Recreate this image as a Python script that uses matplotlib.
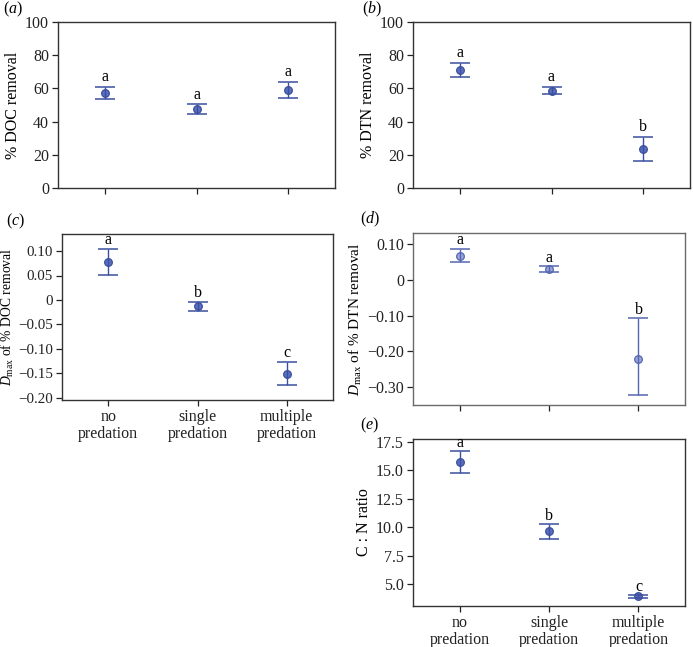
"""
Removal of DOC / DTN and C:N ratio under predation treatments (panels a-e).
"""
import matplotlib
matplotlib.use('Agg')
import matplotlib.pyplot as plt
from matplotlib.ticker import FixedLocator

plt.rcParams['font.family'] = 'Liberation Serif'
plt.rcParams['mathtext.fontset'] = 'custom'
plt.rcParams['mathtext.rm'] = 'Liberation Serif'
plt.rcParams['mathtext.it'] = 'Liberation Serif:italic'
plt.rcParams['axes.unicode_minus'] = True

# treatments
TREATMENTS = ['no\npredation', 'single\npredation', 'multiple\npredation']

# (a) % DOC removal
DOC_MEAN = [57.0, 47.5, 59.0]
DOC_LOW = [53.5, 44.5, 54.0]
DOC_HIGH = [61.0, 50.5, 64.0]
DOC_LETTERS = ['a', 'a', 'a']

# (b) % DTN removal
DTN_MEAN = [71.0, 58.5, 23.5]
DTN_LOW = [67.0, 56.5, 16.0]
DTN_HIGH = [75.5, 61.0, 31.0]
DTN_LETTERS = ['a', 'a', 'b']

# (c) Dmax of % DOC removal
DDOC_MEAN = [0.077, -0.013, -0.151]
DDOC_LOW = [0.052, -0.022, -0.174]
DDOC_HIGH = [0.104, -0.005, -0.127]
DDOC_LETTERS = ['a', 'b', 'c']

# (d) Dmax of % DTN removal
DDTN_MEAN = [0.068, 0.030, -0.220]
DDTN_LOW = [0.050, 0.021, -0.322]
DDTN_HIGH = [0.087, 0.038, -0.108]
DDTN_LETTERS = ['a', 'a', 'b']

# (e) C:N ratio
CN_MEAN = [15.75, 9.65, 3.9]
CN_LOW = [14.8, 9.0, 3.8]
CN_HIGH = [16.7, 10.3, 4.0]
CN_LETTERS = ['a', 'b', 'c']

W, H = 693, 647
BLUE = '#3b4f9e'
FS = 11.5


def add_ax(fig, left, right, top, bottom):
    return fig.add_axes([left / W, 1 - bottom / H, (right - left) / W, (bottom - top) / H])


def panel(ax, mean, low, high, letters, ylim, yticks, yticklabels, ylabel,
          tag, tag_xy, show_x=False, spine='#333333', face='#5a6fc0', offset=0.0,
          lcolor=BLUE, ylabel_fs=FS, labelpad=3, ytick_fs=FS):
    x = list(range(len(mean)))
    err = [[m - l for m, l in zip(mean, low)], [h - m for m, h in zip(mean, high)]]
    # marker first, error line drawn through it
    ax.plot(x, mean, 'o', ms=5.5, mfc=face, mec=lcolor, mew=0.9, zorder=2)
    ax.errorbar(x, mean, yerr=err, fmt='none', ecolor=lcolor, elinewidth=1.0,
                capsize=7, capthick=1.1, zorder=3)
    for xi, h, lab in zip(x, high, letters):
        ax.text(xi, h + offset, lab, ha='center', va='bottom', fontsize=FS)
    ax.set_xlim(-0.52, 2.52)
    ax.set_ylim(*ylim)
    ax.yaxis.set_major_locator(FixedLocator(yticks))
    ax.set_yticklabels(yticklabels)
    ax.set_xticks(x)
    if show_x:
        ax.set_xticklabels(TREATMENTS, fontsize=FS, linespacing=1.05)
    else:
        ax.set_xticklabels([])
    ax.tick_params(direction='out', length=4, width=0.9, labelsize=FS,
                   colors='#222222', pad=2.5)
    ax.tick_params(axis='y', labelsize=ytick_fs)
    for s in ax.spines.values():
        s.set_color(spine)
        s.set_linewidth(1.0)
    ax.set_ylabel(ylabel, fontsize=ylabel_fs, labelpad=labelpad)
    fig.text(tag_xy[0] / W, 1 - tag_xy[1] / H, tag, fontsize=FS, ha='left', va='center')


fig = plt.figure(figsize=(W / 100, H / 100), dpi=100)

ax_a = add_ax(fig, 58, 335, 22, 188)
panel(ax_a, DOC_MEAN, DOC_LOW, DOC_HIGH, DOC_LETTERS, (0, 100),
      [0, 20, 40, 60, 80, 100], ['0', '20', '40', '60', '80', '100'],
      '% DOC removal', r'($\it{a}$)', (3, 9), offset=0.8)

ax_b = add_ax(fig, 413, 690, 22, 188)
panel(ax_b, DTN_MEAN, DTN_LOW, DTN_HIGH, DTN_LETTERS, (0, 100),
      [0, 20, 40, 60, 80, 100], ['0', '20', '40', '60', '80', '100'],
      '% DTN removal', r'($\it{b}$)', (362, 9), offset=0.8)

ax_c = add_ax(fig, 62, 333, 234, 400)
panel(ax_c, DDOC_MEAN, DDOC_LOW, DDOC_HIGH, DDOC_LETTERS, (-0.205, 0.135),
      [0.10, 0.05, 0, -0.05, -0.10, -0.15, -0.20],
      ['0.10', '0.05', '0', '\u22120.05', '\u22120.10', '\u22120.15', '\u22120.20'],
      r'$D_{\mathrm{max}}$ of % DOC removal', r'($\it{c}$)', (6, 221), show_x=True,
      offset=0.002, ylabel_fs=9.8, labelpad=2, ytick_fs=10.8)
# keep the long label clear of the figure edge and the tick labels
ax_c.yaxis.set_label_coords(-0.168, 0.5)

ax_d = add_ax(fig, 413, 685, 233, 405)
panel(ax_d, DDTN_MEAN, DDTN_LOW, DDTN_HIGH, DDTN_LETTERS, (-0.35, 0.131),
      [0.10, 0, -0.10, -0.20, -0.30],
      ['0.10', '0', '\u22120.10', '\u22120.20', '\u22120.30'],
      r'$D_{\mathrm{max}}$ of % DTN removal', r'($\it{d}$)', (360, 219),
      spine='#6a6a6a', face='#9aa6dc', offset=0.002, lcolor='#5566b0',
      ylabel_fs=11, labelpad=2)

ax_e = add_ax(fig, 413, 685, 439, 606)
panel(ax_e, CN_MEAN, CN_LOW, CN_HIGH, CN_LETTERS, (3.06, 17.76),
      [5.0, 7.5, 10.0, 12.5, 15.0, 17.5],
      ['5.0', '7.5', '10.0', '12.5', '15.0', '17.5'],
      'C : N ratio', r'($\it{e}$)', (360, 425), show_x=True, offset=0.0)

fig.savefig('out.png', dpi=100)
